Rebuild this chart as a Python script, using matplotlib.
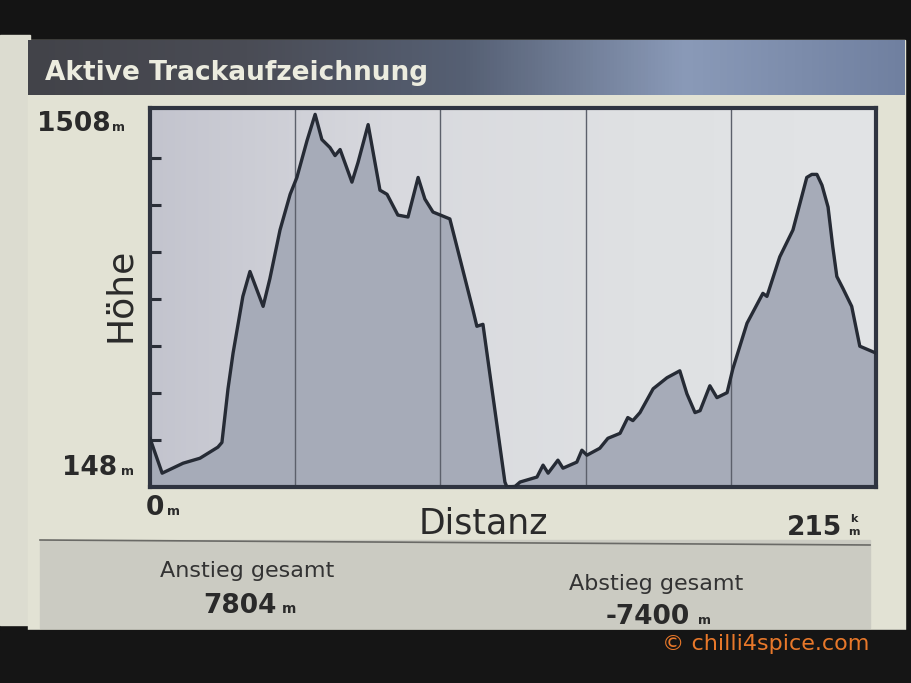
import numpy as np
import matplotlib
matplotlib.use("Agg")
import matplotlib.pyplot as plt
from matplotlib.patches import Rectangle
from matplotlib.colors import LinearSegmentedColormap

# ---------------- data ----------------
title = "Aktive Trackaufzeichnung"
y_label = "Höhe"
x_label = "Distanz"
elev_min, elev_max = 148, 1508
dist_max = 215
ascent_label, ascent_value = "Anstieg gesamt", "7804"
descent_label, descent_value = "Abstieg gesamt", "-7400"

distance_km = [0, 3.6, 9.8, 14.8, 20.1, 21.3, 23.1, 24.6, 27.5, 29.6, 33.5, 35.5,
               38.5, 41.5, 43.5, 46.5, 48.9, 50.9, 53.3, 54.8, 56.3, 59.8, 61.6,
               64.6, 68.1, 70.2, 73.4, 76.4, 79.4, 81.4, 83.8, 88.8, 91.8, 95.6,
               96.8, 98.6, 105.1, 105.7, 108.1, 109.6, 114.6, 116.4, 117.9, 120.8,
               122.3, 126.4, 127.9, 129.4, 133.2, 135.6, 139.2, 141.5, 143.0,
               145.1, 149.0, 153.1, 156.9, 159.0, 161.4, 162.9, 165.8, 167.9,
               170.9, 172.6, 176.8, 181.5, 182.7, 186.5, 190.4, 194.5, 196.0,
               197.5, 199.0, 200.8, 202.2, 203.4, 205.2, 207.8, 210.2, 215.0]
elevation_m = [324, 198, 234, 252, 292, 309, 503, 632, 837, 927, 801, 901,
               1077, 1206, 1267, 1400, 1495, 1404, 1375, 1346, 1368, 1250, 1321,
               1458, 1221, 1206, 1131, 1124, 1267, 1189, 1142, 1117, 973, 790,
               729, 736, 166, 148, 150, 166, 184, 227, 198, 245,
               216, 238, 281, 263, 288, 324, 342, 399, 388,
               417, 503, 543, 568, 485, 417, 424, 514, 471,
               489, 575, 740, 848, 837, 980, 1077, 1267, 1278,
               1278, 1239, 1160, 1016, 909, 866, 801, 657, 632]
grid_km = [43, 86, 129, 172]
tick_m = [148 + 170 * k for k in range(1, 8)]

# ---------------- figure ----------------
W, H = 911, 683
fig = plt.figure(figsize=(W / 100, H / 100), dpi=100)
fig.patch.set_facecolor("#141414")

bg = fig.add_axes([0, 0, 1, 1])
bg.set_xlim(0, W)
bg.set_ylim(H, 0)
bg.axis("off")

# left neighbouring strip
bg.add_patch(Rectangle((0, 35), 30, 590, color="#dcdcd0", zorder=1))
# screen body
bg.add_patch(Rectangle((28, 40), 877, 595, color="#e2e2d4", zorder=1))
# title bar gradient
grad = np.linspace(0, 1, 256).reshape(1, -1)
cm_title = LinearSegmentedColormap.from_list("t", ["#424349", "#4a4c55", "#566074", "#8a9ab8", "#7080a0"])
bg.imshow(grad, extent=(28, 905, 95, 40), aspect="auto", cmap=cm_title, zorder=2)
# bottom info panel
bg.add_patch(Rectangle((40, 540), 830, 88, color="#cbcbc2", zorder=1))
bg.plot([40, 870], [540, 545], color="#6a6a66", lw=1.2, zorder=2)
# bottom bezel
bg.add_patch(Rectangle((0, 630), W, 53, color="#151515", zorder=3))

dark = "#2a2a2a"
bg.text(45, 80, title, color="#ececdf", fontsize=19, fontweight="bold",
        family="DejaVu Sans", va="baseline", ha="left", zorder=4)

# y-axis labels
bg.text(37, 131, "1508", fontsize=19, fontweight="bold", color=dark, va="baseline", zorder=4)
bg.text(112, 131, "m", fontsize=9, fontweight="bold", color=dark, va="baseline", zorder=4)
bg.text(62, 475, "148", fontsize=19, fontweight="bold", color=dark, va="baseline", zorder=4)
bg.text(121, 475, "m", fontsize=9, fontweight="bold", color=dark, va="baseline", zorder=4)
bg.text(120, 295, y_label, fontsize=26, color=dark, rotation=90, va="center", ha="center", zorder=4)

# x-axis labels
bg.text(146, 515, "0", fontsize=19, fontweight="bold", color=dark, va="baseline", zorder=4)
bg.text(167, 515, "m", fontsize=9, fontweight="bold", color=dark, va="baseline", zorder=4)
bg.text(483, 533, x_label, fontsize=25, color=dark, va="baseline", ha="center", zorder=4)
bg.text(787, 535, "215", fontsize=19, fontweight="bold", color=dark, va="baseline", zorder=4)
bg.text(854, 522, "k", fontsize=8, fontweight="bold", color=dark, va="baseline", ha="center", zorder=4)
bg.text(854, 535, "m", fontsize=8, fontweight="bold", color=dark, va="baseline", ha="center", zorder=4)

# bottom panel texts
bg.text(247, 577, ascent_label, fontsize=16, color="#333333", va="baseline", ha="center", zorder=4)
bg.text(240, 613, ascent_value, fontsize=19, fontweight="bold", color=dark, va="baseline", ha="center", zorder=4)
bg.text(282, 613, "m", fontsize=10, fontweight="bold", color=dark, va="baseline", zorder=4)
bg.text(656, 590, descent_label, fontsize=16, color="#333333", va="baseline", ha="center", zorder=4)
bg.text(648, 624, descent_value, fontsize=19, fontweight="bold", color=dark, va="baseline", ha="center", zorder=5)
bg.text(698, 624, "m", fontsize=9, fontweight="bold", color=dark, va="baseline", zorder=5)

# watermark
bg.text(662, 650, "© chilli4spice.com", fontsize=16, color="#e8782a", va="baseline", ha="left", zorder=6)

# ---------------- elevation plot ----------------
x0, x1, ytop, ybot = 150, 876, 108, 487
ax = fig.add_axes([x0 / W, 1 - ybot / H, (x1 - x0) / W, (ybot - ytop) / H])
ax.set_xlim(0, dist_max)
ax.set_ylim(elev_min, elev_max + 10)
bg_grad = np.linspace(0, 1, 256).reshape(1, -1)
cm_plot = LinearSegmentedColormap.from_list("p", ["#c3c4ce", "#d8d9de", "#dfe1e3", "#e2e4e6"])
ax.imshow(bg_grad, extent=(0, dist_max, elev_min, elev_max + 10), aspect="auto", cmap=cm_plot, zorder=0)
ax.fill_between(distance_km, elevation_m, elev_min, color="#a6abb8", zorder=1)
for g in grid_km:
    ax.axvline(g, color="#5c606b", lw=1.0, zorder=2)
ax.plot(distance_km, elevation_m, color="#262b35", lw=2.4, zorder=3, solid_joinstyle="round")
ax.set_yticks(tick_m)
ax.set_xticks([])
ax.tick_params(axis="y", direction="in", length=8, width=2.2, color="#2a2e38", labelleft=False)
for s in ax.spines.values():
    s.set_color("#2f3440")
    s.set_linewidth(3)

fig.savefig("out.png", dpi=100, facecolor=fig.get_facecolor())
